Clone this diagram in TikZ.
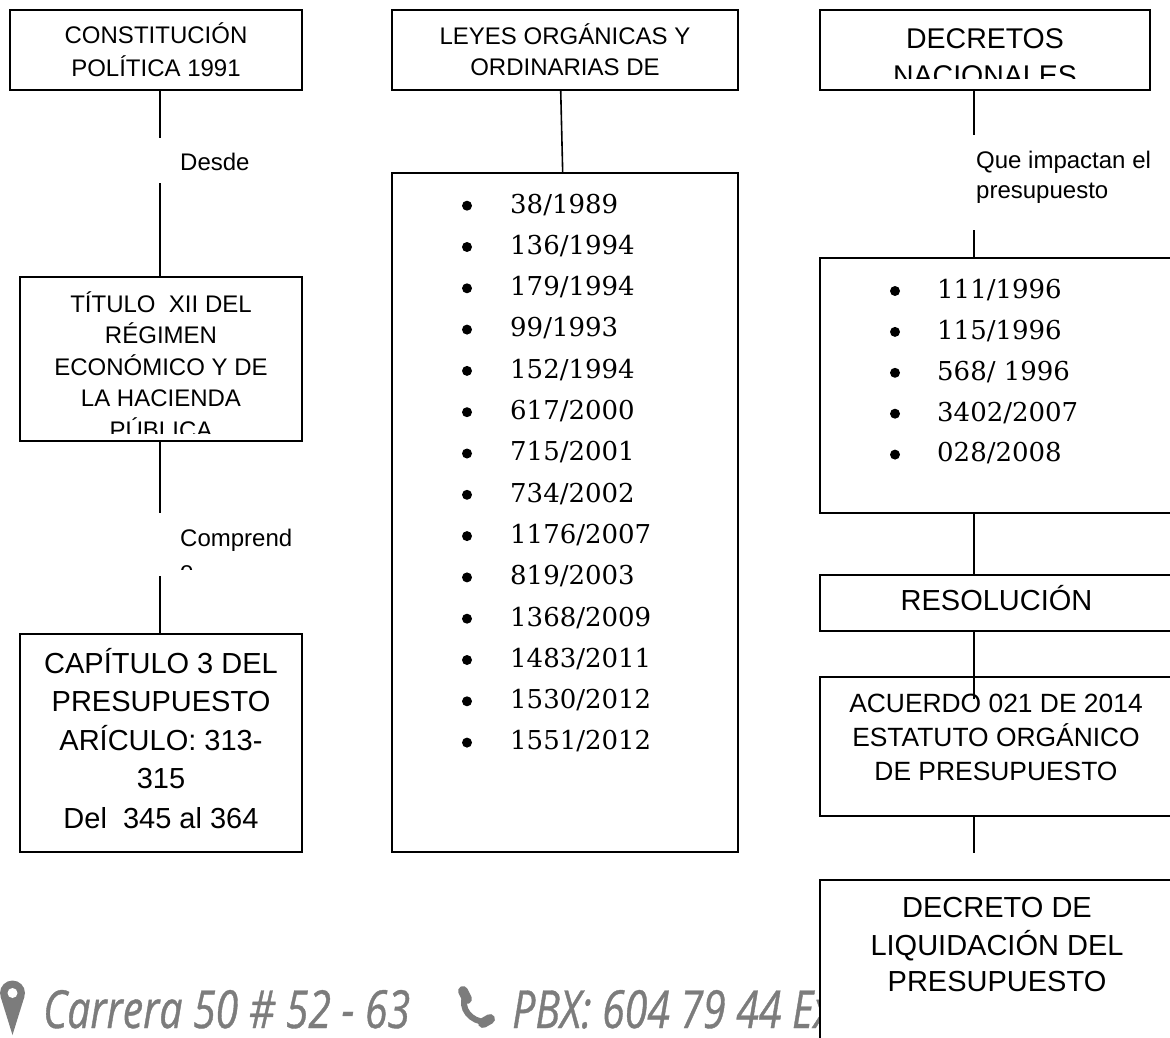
\documentclass[tikz,border=0pt]{standalone}
\usepackage{fontspec}
\setmainfont{Liberation Sans}
\newfontfamily\numfont{DejaVu Serif}
\newfontfamily\footfont[FakeStretch=0.78,FakeBold=0.7]{Open Sans}
\usetikzlibrary{calc}
\definecolor{footgray}{HTML}{7C7C7C}
\begin{document}
\begin{tikzpicture}[x=1pt,y=-1pt,
  boxs/.style={draw=black, line width=1.6pt, fill=white, inner sep=0pt, outer sep=0pt},
  conn/.style={draw=black, line width=1.6pt},
  labbg/.style={fill=white, draw=none, inner sep=0pt, outer sep=0pt, anchor=north west},
  tA/.style={inner sep=0pt, anchor=base, font=\fontsize{24}{28}\selectfont},
  tB/.style={inner sep=0pt, anchor=base, font=\fontsize{29}{34}\selectfont},
  tC/.style={inner sep=0pt, anchor=base, font=\fontsize{28.5}{34}\selectfont},
  tD/.style={inner sep=0pt, anchor=base, font=\fontsize{26.4}{32}\selectfont},
  numtxt/.style={inner sep=0pt, anchor=base west, font=\numfont\fontsize{26}{30}\selectfont},
  foot/.style={inner sep=0pt, anchor=base west, text=footgray, font=\footfont\itshape\fontsize{52.5}{60}\selectfont}
]
\useasboundingbox (0,0) rectangle (1170,1038);

% ---------- footer (drawn first, covered by last box) ----------
\fill[footgray] (12.5,993) circle (12.5pt);
\fill[footgray] (0.6,996.7) -- (12.5,1035) -- (24.4,996.7) -- cycle;
\fill[white] (12.5,993) circle (5pt);
\node[foot] (f1) at (43,1028) {Carrera 50 \# 52 - 63};
\draw[footgray, line width=6pt, line cap=round] (466,995) .. controls (459,1008) and (471,1022) .. (486,1022);
\draw[footgray, line width=10pt, line cap=round] (463,991) -- (467,999);
\draw[footgray, line width=10pt, line cap=round] (483,1023) -- (490,1019);
\node[foot] (f2) at (512,1028) {PBX: 604 79 44 Ex};

% ---------- boxes ----------
\node[boxs, minimum width=292pt, minimum height=80pt] (b1) at (156,50) {};
\node[boxs, minimum width=282pt, minimum height=164pt] (b2) at (161,359) {};
\node[boxs, minimum width=282pt, minimum height=218pt] (b3) at (161,743) {};
\node[boxs, minimum width=346pt, minimum height=80pt] (b4) at (565,50) {};
\node[boxs, minimum width=346pt, minimum height=679pt] (b5) at (565,512.5) {};
\node[boxs, minimum width=330pt, minimum height=80pt] (b6) at (985,50) {};
\node[boxs, minimum width=353pt, minimum height=255pt] (b7) at (996.5,385.5) {};
\node[boxs, minimum width=353pt, minimum height=56pt] (b8) at (996.5,603) {};
\node[boxs, minimum width=353pt, minimum height=139pt] (b9) at (996.5,746.5) {};
\node[boxs, minimum width=353pt, minimum height=165pt] (b10) at (996.5,962.5) {};

% ---------- box texts ----------
\node[tA] (b1a) at (156,44) {CONSTITUCIÓN};
\node[tA] (b1b) at (156,76.5) {POLÍTICA 1991};

\begin{scope}
\clip (20,277) rectangle (302,433);
\node[tA] (b2a) at (161,312) {TÍTULO~~XII DEL};
\node[tA] (b2b) at (161,343.5) {RÉGIMEN};
\node[tA] (b2c) at (161,375) {ECONÓMICO Y DE};
\node[tA] (b2d) at (161,406.5) {LA HACIENDA};
\node[tA] (b2e) at (161,438) {PÚBLICA};
\end{scope}

\node[tB] (b3a) at (161,673) {CAPÍTULO 3 DEL};
\node[tB] (b3b) at (161,711.5) {PRESUPUESTO};
\node[tB] (b3c) at (161,750) {ARÍCULO: 313-};
\node[tB] (b3d) at (161,788.5) {315};
\node[tB] (b3e) at (161,828) {Del~~345 al 364};

\node[tA] (b4a) at (565,44.3) {LEYES ORGÁNICAS Y};
\node[tA] (b4b) at (565,76) {ORDINARIAS DE};

\foreach \lbl [count=\i from 0] in {{38/1989},{136/1994},{179/1994},{99/1993},{152/1994},{617/2000},{715/2001},{734/2002},{1176/2007},{819/2003},{1368/2009},{1483/2011},{1530/2012},{1551/2012}}{
  \fill ({467},{205.7+41.3*\i}) circle (5pt);
  \node[numtxt] (m\i) at ({510},{213+41.3*\i}) {\lbl};
}

\node[tC] (b6a) at (985,48.3) {DECRETOS};
\begin{scope}
\clip (820,10) rectangle (1150,79);
\node[tC] (b6b) at (985,85.5) {NACIONALES};
\end{scope}

\foreach \lbl [count=\i from 0] in {{111/1996},{115/1996},{568/ 1996},{3402/2007},{028/2008}}{
  \fill ({895},{291+40.9*\i}) circle (5pt);
  \node[numtxt] (r\i) at ({937},{298.3+40.9*\i}) {\lbl};
}

\node[tB] (b8a) at (996.5,610) {RESOLUCIÓN};

\node[tD] (b9a) at (996,712.7) {ACUERDO 021 DE 2014};
\node[tD] (b9b) at (996,746.7) {ESTATUTO ORGÁNICO};
\node[tD] (b9c) at (996,780) {DE PRESUPUESTO};

\node[tB] (b10a) at (997,917) {DECRETO DE};
\node[tB] (b10b) at (997,955) {LIQUIDACIÓN DEL};
\node[tB] (b10c) at (997,991.7) {PRESUPUESTO};

% ---------- connectors ----------
\coordinate (c2) at ($(b2.north)+(-1,0)$);
\coordinate (c2s) at ($(b2.south)+(-1,0)$);
\coordinate (c3) at ($(b3.north)+(-1,0)$);
\draw[conn] (c2 |- b1.south) -- (c2);
\draw[conn] (c2s) -- (c3);
\draw[conn] ($(b4.south)+(-4.3,0)$) -- ($(b5.north)+(-2.3,0)$);
\draw[conn] ($(b6.south west)+(154,0)$) -- ($(b7.north west)+(154,0)$);
\draw[conn] ($(b7.south west)+(154,0)$) -- ($(b8.north west)+(154,0)$);
\draw[conn] ($(b8.south west)+(154,0)$) -- ($(b9.north west)+(154,22)$);
\coordinate (e10) at ($(b9.south west)+(154,37)$);
\draw[conn] ($(b9.south west)+(154,0)$) -- (e10);

% ---------- connector labels ----------
\node[labbg, minimum width=141pt, minimum height=45pt] (l1bg) at (159,138) {};
\node[tA, anchor=base west] (l1) at (180,170.5) {Desde};

\node[labbg, minimum width=141pt, minimum height=63pt] (l2bg) at (159,513) {};
\node[tA, anchor=base west] (l2) at (180,546) {Comprend};
\begin{scope}
\clip (170,550) rectangle (300,569.5);
\node[tA, anchor=base west] (l2b) at (180,578) {e};
\end{scope}

\node[labbg, minimum width=195pt, minimum height=95pt] (l3bg) at (969,135) {};
\node[tA, anchor=base west] (l3) at (976,168) {Que impactan el};
\node[tA, anchor=base west] (l3b) at (976,198.5) {presupuesto};
\end{tikzpicture}
\end{document}
